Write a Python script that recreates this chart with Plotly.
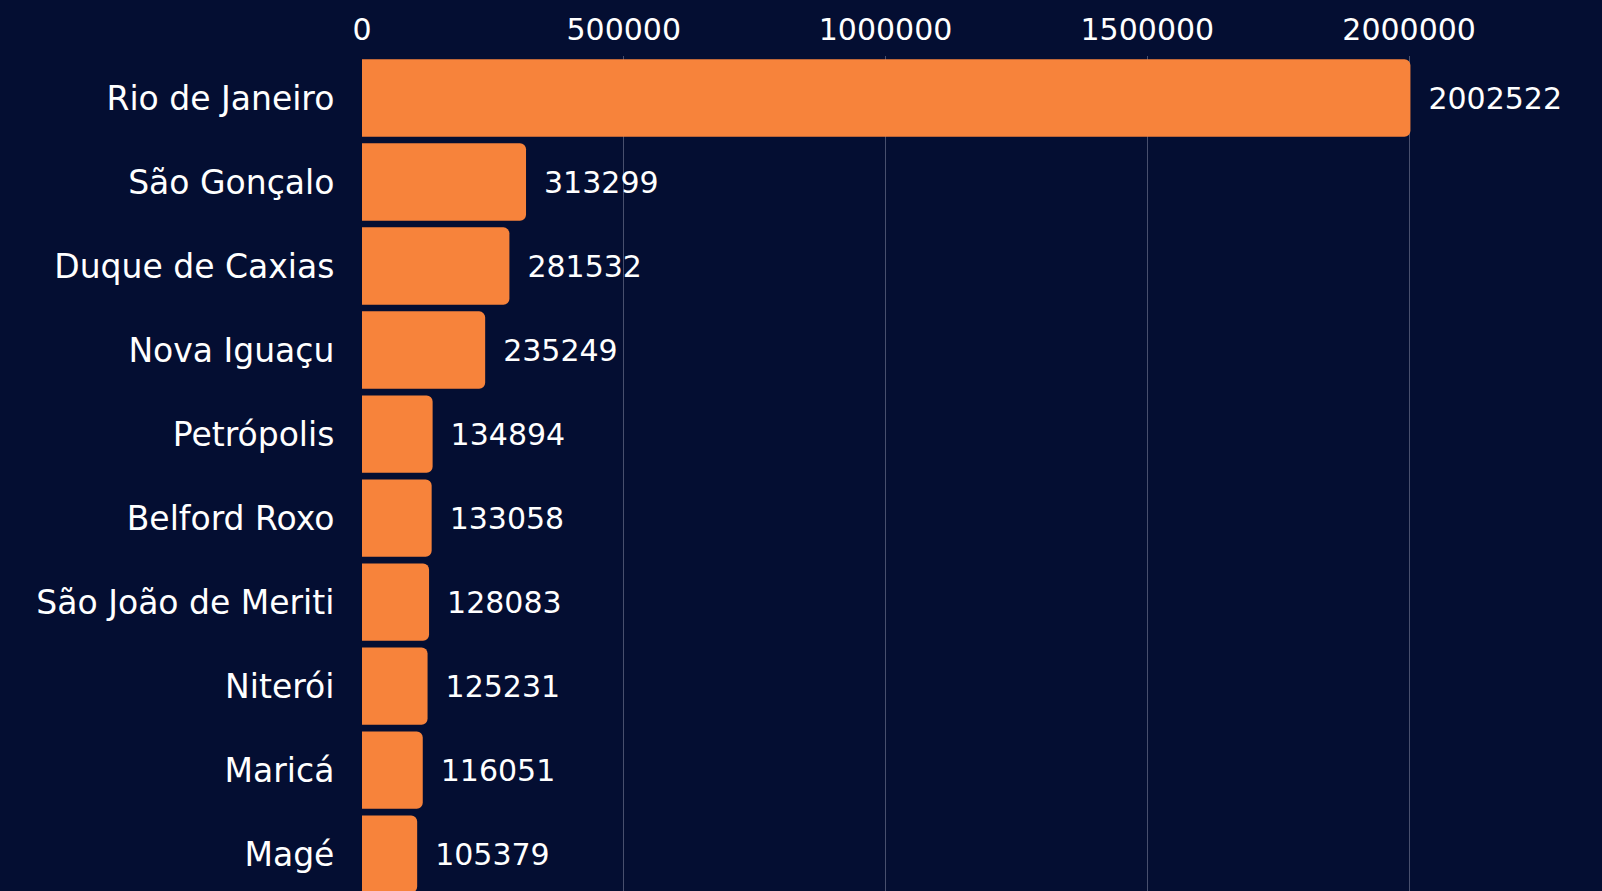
import plotly.graph_objects as go

cities = ["Rio de Janeiro", "São Gonçalo", "Duque de Caxias", "Nova Iguaçu", "Petrópolis",
          "Belford Roxo", "São João de Meriti", "Niterói", "Maricá", "Magé"]
values = [2002522, 313299, 281532, 235249, 134894, 133058, 128083, 125231, 116051, 105379]
tick_vals = [0, 500000, 1000000, 1500000, 2000000]
tick_text = ["0", "500000", "1000000", "1500000", "2000000"]

BG = "#040e32"
FONT = "DejaVu Sans"

fig = go.Figure(go.Bar(
    x=values, y=cities, orientation="h",
    marker=dict(color="#f7833b", cornerradius=6, line=dict(width=0)),
    text=[str(v) for v in values], texttemplate="\u2002%{text}", textposition="outside",
    textfont=dict(color="white", size=30, family=FONT),
    cliponaxis=False,
))

fig.update_layout(
    width=1602, height=891,
    margin=dict(l=362, r=62, t=56, b=0),
    paper_bgcolor=BG, plot_bgcolor="rgba(0,0,0,0)",
    font=dict(family=FONT, color="white", size=30),
    bargap=0.08, showlegend=False,
    xaxis=dict(side="top", range=[0, 2250000], tickvals=tick_vals, ticktext=tick_text,
               showgrid=True, gridcolor="rgba(200,200,220,0.35)", gridwidth=1,
               zeroline=False, showline=False, ticks="", tickfont=dict(size=30),
               ticklabelstandoff=9),
    yaxis=dict(categoryorder="array", categoryarray=cities, range=[9.44, -0.5],
               showgrid=False, zeroline=False, showline=False, ticks="outside",
               ticklen=20, tickcolor="rgba(0,0,0,0)", tickfont=dict(size=33)),
)

fig.write_html("out.html", config={"displayModeBar": False},
               post_script="document.body.style.margin='0';document.body.style.background='" + BG + "';")
